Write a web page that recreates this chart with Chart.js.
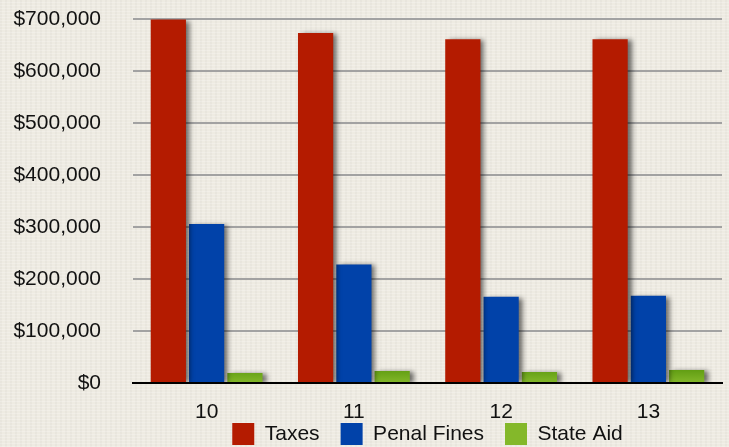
<!DOCTYPE html>
<html>
<head>
<meta charset="utf-8">
<script src="https://cdn.jsdelivr.net/npm/chart.js@4"></script>
<style>
  html, body { margin: 0; padding: 0; }
  body {
    width: 729px; height: 447px; overflow: hidden;
    background-color: #eeebe2;
    background-image:
      repeating-linear-gradient(0deg, rgba(255,255,255,0.22) 0 1px, transparent 1px 3px),
      repeating-linear-gradient(90deg, rgba(0,0,0,0.025) 0 2px, transparent 2px 5px);
  }
  #wrap { position: relative; width: 729px; height: 447px; }
</style>
</head>
<body>
<div id="wrap"><canvas id="fundsChart"></canvas></div>
<script>
const years = ['10', '11', '12', '13'];
const taxes = [699000, 673000, 661000, 661000];
const penalFines = [306000, 228000, 166000, 168000];
const stateAid = [19000, 23000, 21000, 25000];

const ctx = document.getElementById('fundsChart').getContext('2d');

// sombra suave detras de las barras
const barShadow = {
  id: 'barShadow',
  beforeDatasetsDraw(chart) {
    const c = chart.ctx;
    c.save();
    c.shadowColor = 'rgba(0,0,0,0.55)';
    c.shadowBlur = 5;
    c.shadowOffsetX = 4;
    c.shadowOffsetY = 1;
  },
  afterDatasetsDraw(chart) {
    chart.ctx.restore();
  }
};

// verde con degradado vertical, como en el original
function greenFill(context) {
  const area = context.chart.chartArea;
  if (!area) return '#6ca51b';
  const g = context.chart.ctx.createLinearGradient(0, area.bottom - 14, 0, area.bottom);
  g.addColorStop(0, '#5f9c12');
  g.addColorStop(1, '#84b82a');
  return g;
}

const fontFamily = '"Liberation Sans", Arial, Helvetica, sans-serif';

new Chart(ctx, {
  type: 'bar',
  data: {
    labels: years,
    datasets: [
      { label: 'Taxes', data: taxes, backgroundColor: '#b41b00' },
      { label: 'Penal Fines', data: penalFines, backgroundColor: '#0142a9' },
      { label: 'State Aid', data: stateAid, backgroundColor: greenFill }
    ]
  },
  options: {
    responsive: true,
    maintainAspectRatio: false,
    animation: false,
    layout: { padding: { left: 0, right: 7, top: 19, bottom: -8 } },
    datasets: {
      bar: { categoryPercentage: 0.78, barPercentage: 0.92 }
    },
    scales: {
      x: {
        grid: { display: false },
        border: { display: true, color: '#000', width: 2 },
        ticks: { color: '#111', font: { family: fontFamily, size: 21 }, padding: 9 },
        afterFit: scale => {
          // eje mas bajo para que la leyenda quede cerca, sin recortar las etiquetas
          scale.height = 19;
          scale._computeLabelArea = () => undefined;
        }
      },
      y: {
        min: 0,
        max: 700000,
        border: { display: false },
        grid: { color: '#a2a2a2', lineWidth: 2, drawTicks: false },
        ticks: {
          stepSize: 100000,
          padding: 32,
          color: '#111',
          font: { family: fontFamily, size: 21 },
          callback: v => '$' + v.toLocaleString('en-US')
        },
        afterFit: scale => {
          scale.width = 133;
          scale.paddingTop = 0;
          scale.paddingBottom = 0;
        }
      }
    },
    plugins: {
      tooltip: { enabled: false },
      legend: {
        position: 'bottom',
        fullSize: false,
        labels: {
          boxWidth: 22,
          boxHeight: 22,
          padding: 21,
          color: '#111',
          font: { family: fontFamily, size: 21 }
        }
      }
    }
  },
  plugins: [barShadow]
});
</script>
</body>
</html>
